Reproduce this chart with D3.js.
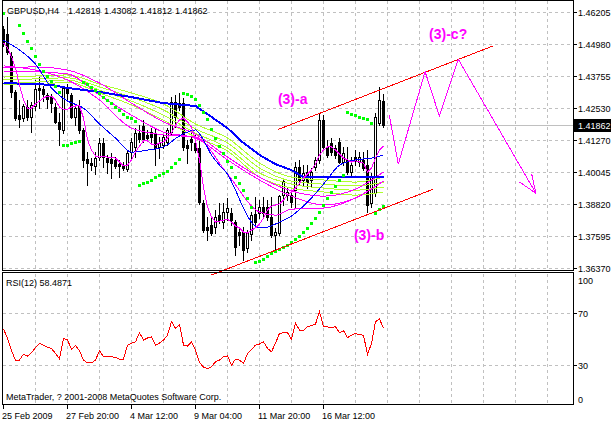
<!DOCTYPE html>
<html><head><meta charset="utf-8">
<script src="https://cdn.jsdelivr.net/npm/d3@7"></script>
<style>
html,body{margin:0;padding:0;background:#fff;}
svg{display:block;font-family:"Liberation Sans",Arial,sans-serif;}
</style></head><body>
<svg id="c" width="611" height="422"></svg>
<script>
// ---------------- data ----------------
const symbol = "GBPUSD,H4";
const headerValues = ["1.42819","1.43082","1.41812","1.41862"];
const lastPrice = 1.41862;
const priceTicks = ["1.46205","1.44980","1.43755","1.42530","1.41270","1.40045","1.38820","1.37595","1.36370"];
const rsiTicks = [100,70,30,0];
const rsiGrid = [70,30];
const dateLabels = ["25 Feb 2009","27 Feb 20:00","4 Mar 12:00","9 Mar 04:00","11 Mar 20:00","16 Mar 12:00"];
const dateBars = [0,16,32,48,64,80];

const opens = [1.4557,1.4537,1.4453,1.4315,1.4226,1.4215,1.4257,1.4219,1.4261,1.4330,
1.4326,1.4303,1.4295,1.4257,1.4200,1.4169,1.4334,1.4303,1.4219,1.4261,
1.4169,1.4057,1.4042,1.4031,1.4065,1.4119,1.4061,1.4057,1.4054,1.4038,
1.4031,1.4019,1.4084,1.4104,1.4157,1.4184,1.4150,1.4161,1.4157,1.4104,
1.4111,1.4123,1.4161,1.4276,1.4272,1.4272,1.4111,1.4134,1.4119,1.4100,
1.3888,1.3796,1.3804,1.3796,1.3842,1.3815,1.3854,1.3850,1.3815,1.3777,
1.3777,1.3716,1.3769,1.3846,1.3850,1.3873,1.3873,1.3835,1.3766,1.3773,
1.3919,1.3919,1.3919,1.3938,1.4027,1.3977,1.4008,1.3977,1.4027,1.4054,
1.4207,1.4104,1.4119,1.4100,1.4123,1.4046,1.4054,1.4008,1.4065,1.4046,
1.4054,1.4034,1.3888,1.3927,1.4196,1.42819];
const highs = [1.4568,1.4603,1.4468,1.4322,1.4284,1.4269,1.4284,1.4276,1.4361,1.4372,
1.4338,1.4311,1.4307,1.4272,1.4234,1.4338,1.4345,1.4311,1.4265,1.4284,
1.4176,1.4084,1.4061,1.4084,1.4138,1.4138,1.4073,1.4080,1.4065,1.4054,
1.4046,1.4092,1.4138,1.4176,1.4188,1.4207,1.4169,1.4176,1.4176,1.4142,
1.4150,1.4176,1.4295,1.4303,1.4311,1.4292,1.4130,1.4169,1.4150,1.4130,
1.3900,1.3835,1.3831,1.3862,1.3888,1.3888,1.3908,1.3869,1.3823,1.3796,
1.3796,1.3785,1.3854,1.3912,1.3900,1.3912,1.3900,1.3912,1.3793,1.3919,
1.3984,1.3950,1.3938,1.4046,1.4054,1.4034,1.4034,1.4023,1.4065,1.4234,
1.4226,1.4130,1.4138,1.4111,1.4138,1.4104,1.4104,1.4065,1.4092,1.4084,
1.4084,1.4092,1.4004,1.4234,1.4334,1.43082];
const lows = [1.4491,1.4461,1.4295,1.4207,1.4180,1.4203,1.4207,1.4161,1.4246,1.4253,
1.4280,1.4253,1.4238,1.4196,1.4111,1.4157,1.4284,1.4215,1.4188,1.4157,
1.4027,1.3958,1.4015,1.4000,1.4054,1.4027,1.4004,1.3984,1.4023,1.3988,
1.4015,1.4011,1.4061,1.4065,1.4123,1.4123,1.4130,1.4123,1.4034,1.4061,
1.4100,1.4111,1.4150,1.4180,1.4246,1.4092,1.4042,1.4092,1.4084,1.3885,
1.3777,1.3746,1.3766,1.3773,1.3812,1.3793,1.3823,1.3804,1.3689,1.3727,
1.3670,1.3700,1.3746,1.3804,1.3831,1.3831,1.3823,1.3758,1.3708,1.3766,
1.3881,1.3900,1.3873,1.3869,1.3958,1.3958,1.3946,1.3954,1.4015,1.4042,
1.4092,1.4065,1.4073,1.4061,1.4042,1.4034,1.4000,1.3988,1.4034,1.4031,
1.4015,1.3854,1.3873,1.3915,1.4188,1.41812];
const closes = [1.4503,1.4468,1.4315,1.4215,1.4211,1.4261,1.4219,1.4265,1.4326,1.4322,
1.4307,1.4288,1.4272,1.4200,1.4173,1.4330,1.4311,1.4219,1.4253,1.4169,
1.4054,1.4042,1.4034,1.4061,1.4119,1.4065,1.4046,1.4042,1.4031,1.4031,
1.4023,1.4080,1.4123,1.4157,1.4134,1.4134,1.4138,1.4142,1.4100,1.4119,
1.4142,1.4169,1.4276,1.4219,1.4257,1.4104,1.4100,1.4123,1.4092,1.3892,
1.3785,1.3785,1.3773,1.3835,1.3823,1.3854,1.3869,1.3823,1.3719,1.3766,
1.3708,1.3773,1.3842,1.3815,1.3873,1.3850,1.3835,1.3766,1.3777,1.3915,
1.3973,1.3931,1.3892,1.4027,1.3977,1.4004,1.3969,1.4008,1.4054,1.4207,
1.4104,1.4073,1.4084,1.4073,1.4046,1.4080,1.4008,1.4034,1.4054,1.4065,
1.4023,1.3881,1.3988,1.4219,1.4284,1.41862];

const sar = [1.4618,null,null,null,1.4572,1.4542,1.4512,1.4484,1.4453,1.4422,
1.4395,1.4376,1.4357,1.4338,1.4315,1.4111,1.4111,1.4119,1.4123,1.4127,
1.4353,1.4345,1.4334,1.4322,1.4311,1.4295,1.4284,1.4272,1.4257,1.4246,
1.4230,1.4219,1.4215,1.4203,1.3958,1.3965,1.3969,1.3977,1.3988,1.3996,
1.4004,1.4011,1.4027,1.4042,1.4057,1.4311,1.4307,1.4299,1.4288,1.4265,
1.4238,1.4211,1.4173,1.4138,1.4107,1.4080,1.4050,1.4027,1.3988,1.3965,
1.3938,1.3908,1.3873,1.3662,1.3666,1.3673,1.3685,1.3696,1.3704,1.3712,
1.3720,1.3727,1.3739,1.3750,1.3762,1.3777,1.3792,1.3812,1.3831,1.3854,
1.3881,1.3908,1.3931,1.3954,1.3977,1.3996,1.4238,1.4230,1.4226,1.4219,
1.4215,1.4211,1.4196,1.3850,1.3865,1.3877];

const maFastMagenta = [1.4503,1.4484,1.4449,1.4407,1.4342,1.4284,1.4253,1.4253,1.4269,1.4280,
1.4292,1.4299,1.4299,1.4284,1.4257,1.4249,1.4249,1.4257,1.4261,1.4261,
1.4215,1.4130,1.4092,1.4069,1.4065,1.4069,1.4065,1.4065,1.4061,1.4046,
1.4031,1.4034,1.4054,1.4084,1.4107,1.4127,1.4127,1.4115,1.4111,1.4119,
1.4123,1.4138,1.4157,1.4188,1.4207,1.4215,1.4200,1.4180,1.4130,1.4054,
1.3950,1.3873,1.3835,1.3815,1.3819,1.3823,1.3827,1.3815,1.3800,1.3793,
1.3777,1.3773,1.3785,1.3793,1.3808,1.3831,1.3862,1.3877,1.3881,1.3885,
1.3900,1.3919,1.3931,1.3946,1.3965,1.3984,1.4000,1.4015,1.4038,1.4073,
1.4092,1.4104,1.4104,1.4092,1.4077,1.4061,1.4054,1.4046,1.4050,1.4046,
1.4042,1.4008,1.4023,1.4061,1.4092,1.4107];

const blueFastBars = [0,4,8,12,16,20,24,28,32,36,40,44,48,50,52,54,56,58,60,62,64,66,68,72,76,80,84,88,92,95];
const blueFast = [1.4514,1.4476,1.4422,1.4330,1.4280,1.4253,1.4192,1.4138,1.4084,1.4092,1.4104,1.4146,1.4169,1.4130,1.4073,1.4034,1.4000,1.3938,1.3869,1.3815,1.3793,1.3796,1.3808,1.3839,1.3892,1.3961,1.4034,1.4054,1.4061,1.4073];
const blueSlowBars = [0,8,12,16,24,32,40,48,52,56,60,64,68,72,75,80,88,95];
const blueSlow = [1.4349,1.4345,1.4342,1.4330,1.4315,1.4295,1.4272,1.4261,1.4219,1.4176,1.4119,1.4073,1.4038,1.4015,1.3988,1.3988,1.3988,1.3988];

const sampleBars = [0,8,16,24,32,40,48,56,64,72,80,88,95];
const yellow1 = [1.4372,1.4376,1.4380,1.4345,1.4311,1.4269,1.4192,1.4138,1.4042,1.3988,1.3977,1.3969,1.3988];
const yellow2 = [1.4361,1.4365,1.4369,1.4334,1.4295,1.4246,1.4173,1.4119,1.4023,1.3973,1.3961,1.3954,1.3969];
const yellow3 = [1.4349,1.4353,1.4361,1.4322,1.4280,1.4226,1.4157,1.4100,1.4004,1.3961,1.3946,1.3938,1.3950];
const yellow4 = [1.4342,1.4342,1.4353,1.4311,1.4265,1.4207,1.4142,1.4088,1.3988,1.3946,1.3931,1.3919,1.3931];
const magentaSlowA = [1.4407,1.4411,1.4399,1.4349,1.4272,1.4200,1.4153,1.4065,1.3988,1.3935,1.3915,1.3942,1.4008];
const magentaSlowB = [1.4392,1.4392,1.4384,1.4303,1.4226,1.4161,1.4138,1.4054,1.3977,1.3915,1.3881,1.3908,1.3973];
const magentaMidBars = [0,8,16,24,32,40,48,56,64,68,72,80,88,95];
const magentaMid = [1.4415,1.4399,1.4361,1.4284,1.4176,1.4150,1.4142,1.4000,1.3854,1.3842,1.3865,1.3869,1.3908,1.3973];

const rsi = [57.9,50.6,41.1,33.9,33.9,38.5,37.0,39.5,43.7,46.8,
45.5,43.7,42.9,39.0,34.9,50.6,49.4,42.1,45.2,41.1,
33.9,31.8,31.8,33.9,41.1,36.5,36.5,36.5,36.0,34.7,
34.7,45.5,47.0,48.0,55.0,49.4,51.0,51.9,45.5,47.0,
49.4,53.2,63.5,58.4,61.5,45.5,44.7,48.0,41.6,32.0,
28.5,27.4,28.7,32.6,33.9,36.5,37.2,30.0,34.7,33.9,
31.3,39.0,42.0,45.5,46.3,48.0,43.0,40.3,47.0,54.5,
55.0,55.0,49.9,62.3,57.1,56.6,59.7,60.5,61.7,71.3,
59.7,59.5,58.9,59.7,55.0,56.6,51.2,53.2,54.5,53.5,
53.2,38.3,46.8,63.5,65.6,58.49];
const rsiTitle = "RSI(12) 58.4871";
const copyright = "MetaTrader, ? 2001-2008 MetaQuotes Software Corp.";

// drawn objects (bar index, price)
const upperLineBars = [68.7,122.3], upperLinePrices = [1.4171,1.4491];
const lowerLineBars = [51.9,107.3], lowerLinePrices = [1.3612,1.3941];
const zigBars = [96.45,98.7,105.4,108.95,113.7,133.1];
const zigPrices = [1.4226,1.4038,1.4393,1.4223,1.4440,1.3926];
const arrowBars = [128.95,132.05], arrowPrices = [1.3970,1.4000];
const noteTexts = ["(3)-a","(3)-b","(3)-c?"];
const noteBars = [68.6,87.6,106.4];
const notePrices = [1.4268,1.3747,1.4518];

// ---------------- drawing ----------------
const svg = d3.select("#c");
const mainL=2.5, mainR=573.5, mainT=0.5, mainB=270.5, rsiT=272.5, rsiB=404.5;
const x = d3.scaleLinear().domain([0,1]).range([3.5,7.5]);
const y = d3.scaleLinear().domain([1.36370,1.46205]).range([268.6,12.3]);
const yR = d3.scaleLinear().domain([0,100]).range([404,274.5]);
const hp = v => Math.round(v-0.5)+0.5;
const FS = "9px";

svg.append("rect").attr("width",611).attr("height",422).attr("fill","#fff");

// grid
const grid = svg.append("g").attr("stroke","#c0c0c0").attr("stroke-dasharray","3,3")
  .attr("shape-rendering","crispEdges");
d3.range(8,137,8).forEach(b=>{
  grid.append("line").attr("x1",x(b)).attr("x2",x(b)).attr("y1",1).attr("y2",270);
  grid.append("line").attr("x1",x(b)).attr("x2",x(b)).attr("y1",rsiT+1).attr("y2",rsiB);
});
priceTicks.forEach(t=>{
  const yy = hp(y(+t));
  grid.append("line").attr("x1",3).attr("x2",573).attr("y1",yy).attr("y2",yy);
});
rsiGrid.forEach(v=>{
  const yy = hp(yR(v));
  grid.append("line").attr("x1",3).attr("x2",573).attr("y1",yy).attr("y2",yy);
});
// current price line
svg.append("line").attr("x1",3).attr("x2",573).attr("y1",hp(y(lastPrice))).attr("y2",hp(y(lastPrice)))
  .attr("stroke","#c0c0c0").attr("shape-rendering","crispEdges");

// candles
const gC = svg.append("g").attr("shape-rendering","crispEdges");
opens.forEach((o,i)=>{
  const c = closes[i], h = highs[i], l = lows[i];
  const cx = x(i);
  gC.append("line").attr("x1",cx).attr("x2",cx)
    .attr("y1",Math.round(y(h))).attr("y2",Math.round(y(l))+1).attr("stroke","#000");
  const top = Math.round(y(Math.max(o,c))), bot = Math.round(y(Math.min(o,c)));
  if (c < o) {
    gC.append("rect").attr("x",cx-1.5).attr("y",top).attr("width",3)
      .attr("height",Math.max(1,bot-top+1)).attr("fill","#000");
  } else {
    gC.append("rect").attr("x",cx-1).attr("y",top+0.5).attr("width",2)
      .attr("height",Math.max(0,bot-top)).attr("fill","#fff").attr("stroke","#000");
  }
});

// moving averages
const lineLin = d3.line().x(d=>x(d[0])).y(d=>y(d[1]));
const lineSm = d3.line().x(d=>x(d[0])).y(d=>y(d[1])).curve(d3.curveMonotoneX);
const gMA = svg.append("g").attr("fill","none").attr("shape-rendering","crispEdges");
function draw(bars, vals, color, w, gen){
  gMA.append("path").attr("d",gen(bars.map((b,k)=>[b,vals[k]])))
    .attr("stroke",color).attr("stroke-width",w);
}
[yellow1,yellow2,yellow3,yellow4].forEach(s=>draw(sampleBars,s,"#adff2f",1,lineSm));
draw(sampleBars,magentaSlowA,"#ff00ff",1,lineSm);
draw(sampleBars,magentaSlowB,"#ff00ff",1,lineSm);
draw(magentaMidBars,magentaMid,"#ff00ff",1,lineSm);
draw(blueSlowBars,blueSlow,"#0000ff",2,lineLin);
draw(blueFastBars,blueFast,"#0000ff",1,lineSm);
draw(d3.range(maFastMagenta.length),maFastMagenta,"#ff00ff",1,lineLin);

// parabolic SAR
const gS = svg.append("g").attr("fill","#00ff00").attr("shape-rendering","crispEdges");
sar.forEach((v,i)=>{
  if (v==null) return;
  gS.append("rect").attr("x",x(i)-1.5).attr("y",Math.round(y(v))-1.5).attr("width",3).attr("height",3);
});

// trend lines
const gT = svg.append("g").attr("stroke","#ff0000").attr("fill","none").attr("shape-rendering","crispEdges");
gT.append("path").attr("d",lineLin(upperLineBars.map((b,k)=>[b,upperLinePrices[k]])));
gT.append("path").attr("d",lineLin(lowerLineBars.map((b,k)=>[b,lowerLinePrices[k]])));

// projected zigzag
const gZ = svg.append("g").attr("stroke","#ff00ff").attr("fill","none").attr("shape-rendering","crispEdges");
gZ.append("path").attr("d",lineLin(zigBars.map((b,k)=>[b,zigPrices[k]])));
const tip = [zigBars[zigBars.length-1], zigPrices[zigPrices.length-1]];
arrowBars.forEach((b,k)=>gZ.append("path").attr("d",lineLin([[b,arrowPrices[k]],tip])));

// notes
noteTexts.forEach((t,k)=>{
  svg.append("text").attr("x",x(noteBars[k])).attr("y",y(notePrices[k]))
    .attr("fill","#ff00ff").attr("font-size","14px").attr("font-weight","bold").text(t);
});

// RSI
const gR = svg.append("g");
gR.append("path").attr("d",d3.line().x((d,i)=>x(i)).y(d=>yR(d))(rsi))
  .attr("fill","none").attr("stroke","#ff0000").attr("shape-rendering","crispEdges");

// borders
const gB = svg.append("g").attr("fill","none").attr("stroke","#000").attr("shape-rendering","crispEdges");
gB.append("rect").attr("x",mainL).attr("y",mainT).attr("width",mainR-mainL).attr("height",mainB-mainT);
gB.append("rect").attr("x",mainL).attr("y",rsiT).attr("width",mainR-mainL).attr("height",rsiB-rsiT);

// price axis
const gA = svg.append("g").attr("font-size",FS).attr("fill","#000");
priceTicks.forEach(t=>{
  const yy = hp(y(+t));
  gA.append("line").attr("x1",574).attr("x2",577).attr("y1",yy).attr("y2",yy).attr("stroke","#000")
    .attr("shape-rendering","crispEdges");
  gA.append("text").attr("x",578).attr("y",yy+3.5).text(t);
});
const ly = hp(y(lastPrice));
svg.append("rect").attr("x",574).attr("y",ly-6.5).attr("width",37).attr("height",13).attr("fill","#000");
svg.append("text").attr("x",578).attr("y",ly+3.5).attr("font-size",FS).attr("fill","#fff").text(lastPrice.toFixed(5));

// RSI axis
rsiTicks.forEach(v=>{
  const yy = Math.min(399, Math.max(280, yR(v)));
  if (v===70||v===30) gA.append("line").attr("x1",574).attr("x2",577).attr("y1",hp(yR(v))).attr("y2",hp(yR(v)))
    .attr("stroke","#000").attr("shape-rendering","crispEdges");
  gA.append("text").attr("x",578).attr("y",yy+3.5).text(v);
});

// time axis
dateBars.forEach((b,k)=>{
  gA.append("line").attr("x1",x(b)).attr("x2",x(b)).attr("y1",rsiB).attr("y2",rsiB+4)
    .attr("stroke","#000").attr("shape-rendering","crispEdges");
  gA.append("text").attr("x",x(b)-1.5).attr("y",419).text(dateLabels[k]);
});

// header and captions
const hdrX = [68,104,139.5,175];
gA.append("text").attr("x",7).attr("y",14).text(symbol);
headerValues.forEach((v,k)=>gA.append("text").attr("x",hdrX[k]).attr("y",14).text(v));
gA.append("text").attr("x",6).attr("y",286).text(rsiTitle);
gA.append("text").attr("x",6).attr("y",400).text(copyright);
</script>
</body></html>
